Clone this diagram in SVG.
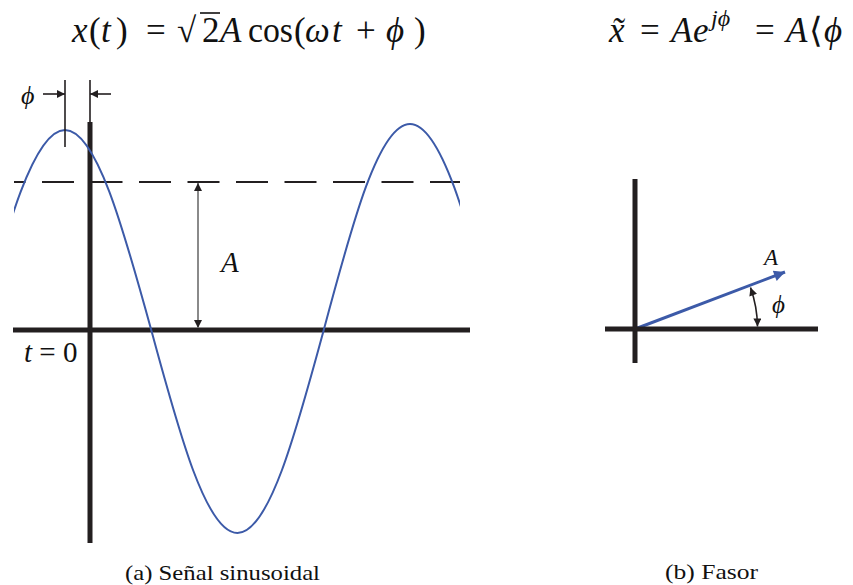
<svg xmlns="http://www.w3.org/2000/svg" width="853" height="585" viewBox="0 0 853 585">
  <style>
    .ax { stroke: #231f20; stroke-width: 5; fill: none; }
    .thin { stroke: #231f20; stroke-width: 1.6; fill: none; }
    .wave { stroke: #3c5aa8; stroke-width: 2; fill: none; }
    .i { font-style: italic; }
    .serif { font-family: "Liberation Serif", "DejaVu Serif", serif; fill: #111; }
  </style>
  <defs>
    <marker id="ahK" viewBox="0 0 10 10" refX="10" refY="5" markerWidth="9" markerHeight="8" markerUnits="userSpaceOnUse" orient="auto-start-reverse">
      <path d="M0,0 L10,5 L0,10 z" fill="#231f20"/>
    </marker>
    <marker id="ahB" viewBox="0 0 10 10" refX="10" refY="5" markerWidth="16" markerHeight="11" markerUnits="userSpaceOnUse" orient="auto">
      <path d="M0,0 L10,5 L0,10 z" fill="#3c5aa8"/>
    </marker>
    <clipPath id="waveClip">
      <rect x="14" y="0" width="446" height="585"/>
    </clipPath>
  </defs>
  <rect width="853" height="585" fill="#ffffff"/>

  <g id="formula-time" class="serif" font-size="35">
    <text y="42"><tspan class="i" x="72">x</tspan><tspan x="89">(</tspan><tspan class="i" x="101">t</tspan><tspan x="116">)</tspan><tspan x="146">=</tspan><tspan x="177">√</tspan><tspan x="202">2</tspan><tspan class="i" x="220">A</tspan></text>
    <text x="248" y="42" textLength="45" lengthAdjust="spacingAndGlyphs">cos</text>
    <text y="42"><tspan x="294">(</tspan><tspan class="i" x="305">ω</tspan><tspan class="i" x="332">t</tspan><tspan x="356">+</tspan><tspan class="i" x="386">ϕ</tspan><tspan x="414">)</tspan></text>
    <line x1="200" y1="13" x2="220" y2="13" stroke="#111" stroke-width="1.6"/>
  </g>
  <g id="formula-phasor" class="serif" font-size="35">
    <text y="42"><tspan class="i" x="609">x̃</tspan><tspan x="640">=</tspan><tspan class="i" x="671">A</tspan><tspan class="i" x="693">e</tspan><tspan x="755">=</tspan><tspan class="i" x="786">A</tspan><tspan x="809">⟨</tspan><tspan class="i" x="824">ϕ</tspan></text>
    <text class="i" x="711" y="26" font-size="24">jϕ</text>
  </g>

  <g id="signal">
    <line x1="14" y1="182" x2="460" y2="182" stroke="#231f20" stroke-width="2" stroke-dasharray="32 16.5" stroke-dashoffset="20.5"/>
    <line id="time-axis" class="ax" x1="13" y1="330" x2="470" y2="330"/>
    <line id="amp-axis" class="ax" x1="90" y1="122" x2="90" y2="543"/>
    <path class="wave" clip-path="url(#waveClip)" d="M -21.25 330 C 6.88 227.54, 33.79 130, 65 130 C 96.21 130, 123.12 227.54, 151.25 330 C 179.38 434, 206.29 533, 237.5 533 C 268.71 533, 295.62 434, 323.75 330 C 351.88 224.47, 378.79 124, 410 124 C 441.21 124, 468.12 224.47, 496.25 330"/>
  </g>

  <g id="connectors">
    <line class="thin" x1="65" y1="80" x2="65" y2="147"/>
    <line class="thin" x1="90" y1="80" x2="90" y2="123"/>
    <line class="thin" x1="43" y1="94" x2="65" y2="94" marker-end="url(#ahK)"/>
    <line class="thin" x1="111" y1="94" x2="90" y2="94" marker-end="url(#ahK)"/>
    <line x1="198" y1="183" x2="198" y2="328" stroke="#8a8a8a" stroke-width="2" marker-start="url(#ahK)" marker-end="url(#ahK)"/>
    <line x1="635" y1="329" x2="785" y2="272" stroke="#3c5aa8" stroke-width="3" marker-end="url(#ahB)"/>
    <path class="thin" d="M 757.5 326.5 A 122.5 122.5 0 0 0 750.5 287.5" marker-start="url(#ahK)" marker-end="url(#ahK)"/>
  </g>

  <g id="signal-labels" class="serif" font-size="29">
    <text class="i" x="21" y="104" font-size="26">ϕ</text>
    <text class="i" x="221" y="272">A</text>
    <text x="24" y="362"><tspan class="i">t</tspan> = 0</text>
  </g>

  <g id="phasor">
    <line class="ax" x1="635" y1="179" x2="635" y2="363"/>
    <line class="ax" x1="605" y1="329" x2="818" y2="329"/>
    <g class="serif">
      <text class="i" x="764" y="265" font-size="23">A</text>
      <text class="i" x="772" y="313" font-size="25">ϕ</text>
    </g>
  </g>

  <g id="captions" class="serif" font-size="22">
    <text x="125" y="580" textLength="195" lengthAdjust="spacingAndGlyphs">(a) Señal sinusoidal</text>
    <text x="665" y="579" textLength="93" lengthAdjust="spacingAndGlyphs">(b) Fasor</text>
  </g>
</svg>
